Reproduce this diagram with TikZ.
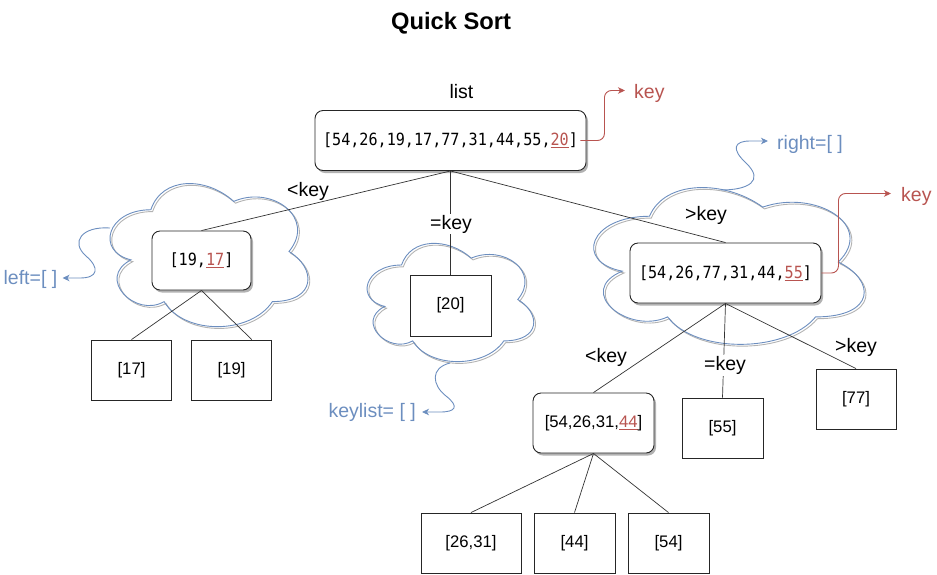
\documentclass[tikz,border=0pt]{standalone}
\usepackage{fontspec}
\setmainfont{Liberation Sans}
\setmonofont[FakeStretch=0.9]{DejaVu Sans Mono}
\usetikzlibrary{calc,shadows,arrows.meta}
\definecolor{cblue}{HTML}{6C8EBF}
\definecolor{cred}{HTML}{B85450}
\definecolor{cgray}{HTML}{B3B3B3}
\newcommand\qslab{\fontsize{19.5}{23}\selectfont}
\newcommand\qsbox{\fontsize{16.7}{20}\selectfont}
\newcommand\qsmono{\ttfamily\fontsize{16.8}{20}\selectfont}
\newcommand\redkey[1]{\textcolor{cred}{\underline{#1}}}
\newcommand\qcloudp[5]{%
  \begin{scope}[shift={(#1,#2)},x=#3pt,y=-#4pt]
    \draw[#5] (0.25,0.25) .. controls (0.05,0.25) and (0,0.5) .. (0.16,0.55)
      .. controls (0,0.66) and (0.18,0.9) .. (0.31,0.8)
      .. controls (0.4,1) and (0.7,1) .. (0.8,0.8)
      .. controls (1,0.8) and (1,0.6) .. (0.875,0.5)
      .. controls (1,0.3) and (0.8,0.1) .. (0.625,0.2)
      .. controls (0.5,0.05) and (0.3,0.05) .. (0.25,0.25) -- cycle;
  \end{scope}}
\newcommand\qcloud[4]{%
  \qcloudp{#1+1.8}{#2+1.8}{#3}{#4}{cgray,line width=0.9pt}%
  \qcloudp{#1}{#2}{#3}{#4}{cblue,line width=0.9pt}}
\begin{document}
\begin{tikzpicture}[x=1pt,y=-1pt,
  box/.style={draw=black!85, line width=0.9pt, fill=white, inner sep=0pt, font=\qsbox},
  rbox/.style={box, rounded corners=8pt,
    drop shadow={shadow xshift=2pt, shadow yshift=-2.5pt, opacity=0.3, fill=black}},
  lab/.style={font=\qslab, inner sep=0pt, anchor=base},
  onedge/.style={lab, fill=white, inner ysep=1pt, inner xsep=1pt},
  edge/.style={draw=black!80, line width=0.7pt},
  redarr/.style={draw=cred, line width=0.9pt, rounded corners=7pt,
    -{Stealth[length=7pt,width=6.5pt,inset=2pt]}},
  bluearr/.style={draw=cblue, line width=0.9pt,
    -{Stealth[length=7pt,width=6.5pt,inset=2pt]}}]
\useasboundingbox (0,0) rectangle (937,574);

% clouds
\qcloud{95.6}{168}{221}{167}
\qcloud{355}{230.5}{186}{138}
\qcloud{574}{170.5}{302}{183}

% title and labels
\node[lab, font=\fontsize{23.7}{28}\bfseries\selectfont] (title) at (451,29) {Quick Sort};
\node[lab] (list) at (461.5,98) {list};

% nodes
\node[rbox, font=\qsmono, minimum width=271, minimum height=60] (root) at (450.5,140.5)
  {[54,26,19,17,77,31,44,55,\redkey{20}]};
\node[rbox, font=\qsmono, minimum width=99, minimum height=59] (n1917) at (201.5,260.5)
  {[19,\redkey{17}]};
\node[box, minimum width=80, minimum height=60] (n17) at (131.5,370) {[17]};
\node[box, minimum width=80, minimum height=60] (n19) at (231.5,370) {[19]};
\node[box, minimum width=81, minimum height=61] (n20) at (450.5,305.5) {[20]};
\node[rbox, font=\qsmono, minimum width=191, minimum height=60] (nR) at (725.5,273)
  {[54,26,77,31,44,\redkey{55}]};
\node[rbox, minimum width=121, minimum height=60] (nL2) at (593.5,423)
  {[54,26,31,\redkey{44}]};
\node[box, minimum width=81, minimum height=60] (n55) at (722.5,428) {[55]};
\node[box, minimum width=80, minimum height=60] (n77) at (856,399) {[77]};
\node[box, minimum width=100, minimum height=60] (n2631) at (471,543) {[26,31]};
\node[box, minimum width=81, minimum height=60] (n44) at (574.5,543) {[44]};
\node[box, minimum width=81, minimum height=60] (n54) at (668.5,543) {[54]};

% edges
\draw[edge] (root.south) -- (n1917.north);
\draw[edge] (root.south) -- (n20.north);
\draw[edge] (root.south) -- (nR.north);
\draw[edge] (n1917.south) -- (n17.north);
\draw[edge] (n1917.south) -- ($(n19.north west)!0.75!(n19.north east)$);
\draw[edge] (nR.south) -- (nL2.north);
\draw[edge] (nR.south) -- (n55.north);
\draw[edge] (nR.south) -- (n77.north);
\draw[edge] (nL2.south) -- (n2631.north);
\draw[edge] (nL2.south) -- (n44.north);
\draw[edge] (nL2.south) -- (n54.north);

% edge labels
\node[lab] (lt1) at (308,196) {<key};
\node[onedge] (eq1) at (451,229) {=key};
\node[lab] (gt1) at (706,220) {>key};
\node[lab] (lt2) at (606,362) {<key};
\node[onedge] (eq2) at (725,370.5) {=key};
\node[lab] (gt2) at (856,352) {>key};

% side labels
\node[lab, anchor=base west, text=cred] (keyA) at (634,98) {key};
\node[lab, anchor=base west, text=cred] (keyB) at (901,201) {key};
\node[lab, anchor=base west, text=cblue] (rightlab) at (777,149) {right=[ ]};
\node[lab, anchor=base east, text=cblue] (leftlab) at (57.5,284) {left=[ ]};
\node[lab, anchor=base east, text=cblue] (keylistlab) at (416,417) {keylist= [ ]};

% red key arrows
\coordinate (rootk) at ($(root.east)+(-6,0)$);
\draw[redarr] (rootk) -- ++(24,0) |- ($(keyA.base west)+(-9,-7.5)$);
\draw[redarr] (nR.east) -- ++(17,0) |- ($(keyB.base west)+(-10,-7.5)$);

% blue cloud arrows
\coordinate (rcS) at (721,190);
\coordinate (lcS) at (110,228);
\coordinate (kcS) at (450,363);
\draw[bluearr] (rcS) .. controls (748,190) and (765,181) .. (746,163)
  .. controls (731,149) and (734,141) .. (750,141) -- ($(rightlab.base west)+(-9,-8)$);
\draw[bluearr] (lcS) .. controls (82,226) and (70,242) .. (86,256)
  .. controls (100,268) and (98,278) .. (80,278) -- ($(leftlab.base east)+(5,-6)$);
\draw[bluearr] (kcS) .. controls (430,368) and (432,385) .. (446,396)
  .. controls (460,407) and (455,412) .. (440,412) -- ($(keylistlab.base east)+(6,-5)$);
\end{tikzpicture}
\end{document}
